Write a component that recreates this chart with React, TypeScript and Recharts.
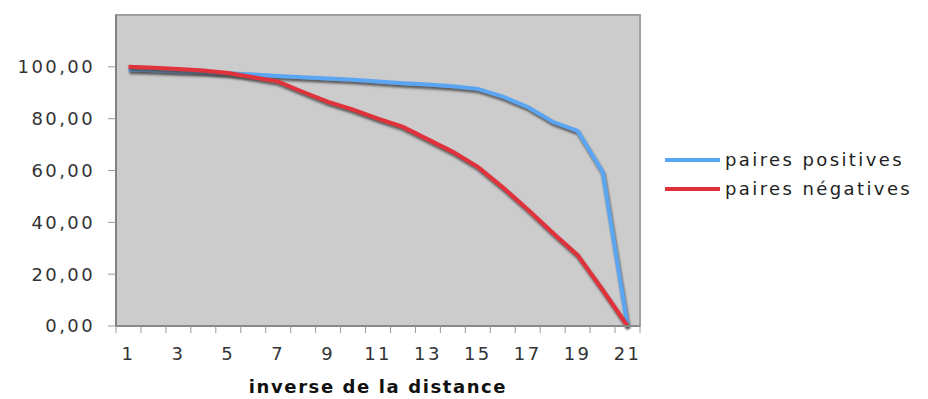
import React from 'react'
import {
  LineChart,
  Line,
  XAxis,
  YAxis,
  ReferenceArea
} from 'recharts'

const DISTANCES = [1, 2, 3, 4, 5, 6, 7, 8, 9, 10, 11, 12, 13, 14, 15, 16, 17, 18, 19, 20, 21]
const POSITIVES = [99, 98.7, 98.3, 98, 97.5, 97, 96.5, 96, 95.5, 95, 94.3, 93.7, 93.2, 92.5, 91.5, 88.5, 84.5, 78.8, 75.3, 59.5, 0]
const NEGATIVES = [100, 99.6, 99.2, 98.6, 97.6, 96, 94.3, 90.3, 86.5, 83.5, 80, 76.8, 72, 67.2, 61.4, 53.5, 45, 36, 27.4, 14, 0]
const Y_TICKS = [0, 20, 40, 60, 80, 100]
// tick marks sit between categories, excel style; labels on every other category
const X_MARKS = [0.5, 1.5, 2.5, 3.5, 4.5, 5.5, 6.5, 7.5, 8.5, 9.5, 10.5, 11.5, 12.5, 13.5, 14.5, 15.5, 16.5, 17.5, 18.5, 19.5, 20.5, 21.5]

const SERIES = [
  { key: 'pos', name: 'paires positives', color: '#5aa6f2' },
  { key: 'neg', name: 'paires négatives', color: '#e0303a' }
]

const data = DISTANCES.map((d, i) => ({ d, pos: POSITIVES[i], neg: NEGATIVES[i] }))

const W = 928
const H = 399
const MARGIN = { top: 15, right: 288, bottom: 0, left: 0 }
const Y_WIDTH = 116
const BAND = (W - MARGIN.right - MARGIN.left - Y_WIDTH) / DISTANCES.length

const FONT = '"DejaVu Sans", Verdana, sans-serif'
const tickStyle = { fontSize: 18, fill: '#333', fontFamily: FONT, letterSpacing: 2.4 }

const fmt = (v: number) => v.toFixed(2).replace('.', ',')

const XTick = (props: any) => {
  const { x, y, payload } = props
  const cat = payload.value + 0.5
  if (cat > DISTANCES.length || cat % 2 === 0) return null
  return (
    <text x={x + BAND / 2} y={y} dy="0.71em" textAnchor="middle" style={tickStyle}>
      {cat}
    </text>
  )
}

export default function App() {
  return (
    <div style={{ position: 'absolute', left: 0, top: 0, width: W, height: H, background: '#fff' }}>
      <style>{'.recharts-line-curve { filter: url(#shadow); }'}</style>
      <svg width={0} height={0} style={{ position: 'absolute' }}>
        <defs>
          <filter id="shadow" filterUnits="userSpaceOnUse" x="0" y="0" width={W} height={H}>
            <feDropShadow dx="1" dy="2.5" stdDeviation="0.9" floodColor="#4a4a4a" floodOpacity="0.9" />
          </filter>
        </defs>
      </svg>
      <LineChart width={W} height={H} data={data} margin={MARGIN}>
        <XAxis
          type="number"
          dataKey="d"
          domain={[0.5, 21.5]}
          ticks={X_MARKS}
          interval={0}
          tickSize={7}
          tickMargin={14}
          tickLine={{ stroke: '#999' }}
          axisLine={{ stroke: '#888', strokeWidth: 2 }}
          tick={<XTick />}
          height={73}
          label={{
            value: 'inverse de la distance',
            position: 'insideBottom',
            offset: 6,
            style: { fontSize: 18, fontWeight: 'bold', fill: '#111', fontFamily: FONT, letterSpacing: 1.6 }
          }}
        />
        <YAxis
          type="number"
          domain={[0, 120]}
          ticks={Y_TICKS}
          width={Y_WIDTH}
          tickSize={8}
          tickMargin={13}
          tickFormatter={fmt}
          tick={tickStyle}
          tickLine={{ stroke: '#999' }}
          axisLine={{ stroke: '#808080', strokeWidth: 2 }}
        />
        <ReferenceArea
          x1={0.5}
          x2={21.5}
          y1={0}
          y2={120}
          fill="#cccccc"
          fillOpacity={1}
          stroke="#a0a0a0"
          strokeWidth={2}
        />
        {SERIES.map((s) => (
          <Line
            key={s.key}
            type="linear"
            dataKey={s.key}
            name={s.name}
            stroke={s.color}
            strokeWidth={4}
            dot={false}
            activeDot={false}
            isAnimationActive={false}
          />
        ))}
      </LineChart>
      <div style={{ position: 'absolute', left: 665, top: 145, fontFamily: FONT, fontSize: 18, color: '#222', letterSpacing: 2.4 }}>
        {SERIES.map((s) => (
          <div key={s.key} style={{ display: 'flex', alignItems: 'center', height: 29 }}>
            <span style={{ display: 'inline-block', width: 55, height: 4, background: s.color, marginRight: 5 }} />
            <span>{s.name}</span>
          </div>
        ))}
      </div>
    </div>
  )
}
